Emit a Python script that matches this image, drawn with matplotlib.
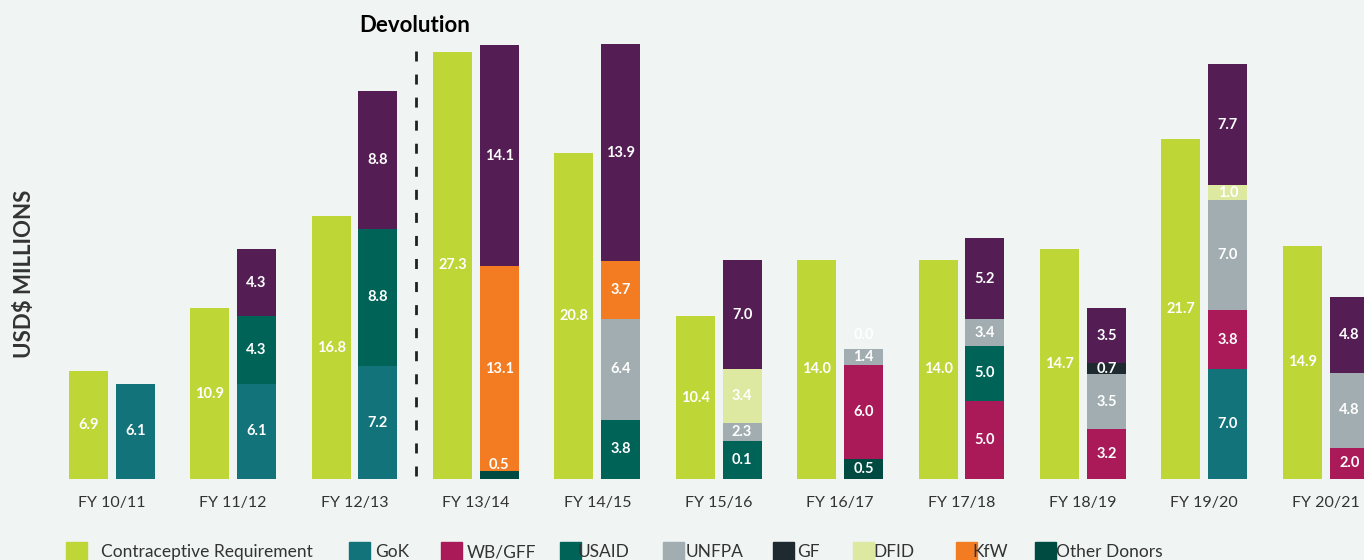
import matplotlib
matplotlib.use('Agg')
from matplotlib import pyplot as plt
from matplotlib.patches import Rectangle
import numpy as np

plt.rcParams['font.family'] = ['Lato', 'DejaVu Sans']

# data
years = ['FY 10/11', 'FY 11/12', 'FY 12/13', 'FY 13/14', 'FY 14/15', 'FY 15/16',
         'FY 16/17', 'FY 17/18', 'FY 18/19', 'FY 19/20', 'FY 20/21']
requirement = [6.9, 10.9, 16.8, 27.3, 20.8, 10.4, 14.0, 14.0, 14.7, 21.7, 14.9]

# funding sources, bottom to top of the stacked bar (None = not present)
other_donors = [None, None, None, 0.5, None, None, 1.3, None, None, None, None]
gok = [6.1, 6.1, 7.2, None, None, None, None, None, None, 7.0, None]
wb_gff = [None, None, None, None, None, None, 6.0, 5.0, 3.2, 3.8, 2.0]
usaid = [None, 4.3, 8.8, None, 3.8, 2.4, None, 3.5, None, None, None]
unfpa = [None, None, None, None, 6.4, 1.2, 1.0, 1.7, 3.5, 7.0, 4.8]
gf = [None, None, None, None, None, None, None, None, 0.7, None, None]
dfid = [None, None, None, None, None, 3.4, None, None, None, 1.0, None]
kfw = [None, None, None, 13.1, 3.7, None, None, None, None, None, None]
gap = [None, 4.3, 8.8, 14.1, 13.9, 7.0, 0.0, 5.2, 3.5, 7.7, 4.8]

# printed labels that differ from the drawn height
label_fix = {('USAID', 5): '0.1', ('UNFPA', 5): '2.3', ('Other Donors', 6): '0.5',
             ('UNFPA', 6): '1.4', ('USAID', 7): '5.0', ('UNFPA', 7): '3.4'}

series = [('Other Donors', other_donors, '#004b41'),
          ('GoK', gok, '#13737b'),
          ('WB/GFF', wb_gff, '#aa1a58'),
          ('USAID', usaid, '#006358'),
          ('UNFPA', unfpa, '#a2adb1'),
          ('GF', gf, '#1f2a30'),
          ('DFID', dfid, '#dde8a0'),
          ('KfW', kfw, '#f37b22'),
          ('Gap', gap, '#541e55')]
green = '#bed636'
bg = '#f0f5f4'

fig = plt.figure(figsize=(13.64, 5.6), dpi=100, facecolor=bg)
ax = fig.add_axes([0, 81 / 560, 1, 479 / 560])
ax.set_facecolor(bg)

x = np.arange(len(years))
w = 0.321
off = 0.193

ax.bar(x - off, requirement, width=w, color=green)
for xi, v in zip(x, requirement):
    ax.text(xi - off, v / 2, '%.1f' % v, ha='center', va='center',
            color='white', fontsize=10.5, fontweight='bold')

bottom = np.zeros(len(years))
for name, vals, col in series:
    h = np.array([np.nan if v is None else v for v in vals], dtype=float)
    hh = np.nan_to_num(h)
    ax.bar(x + off, hh, width=w, bottom=bottom, color=col)
    for i in range(len(years)):
        if np.isnan(h[i]):
            continue
        txt = label_fix.get((name, i), '%.1f' % h[i])
        yy = bottom[i] + hh[i] / 2 if hh[i] > 0 else bottom[i] + 0.9
        if 0 < hh[i] < 0.6:
            yy = bottom[i] + 0.9
        ax.text(x[i] + off, yy, txt, ha='center', va='center',
                color='white', fontsize=10.5, fontweight='bold')
    bottom += hh

# devolution marker
ax.plot([2.506, 2.506], [0.2, 27.4], color='#222222', lw=2,
        ls=(0, (3.6, 4.7)))
fig.text(414.5 / 1364, 1 - 25 / 560, 'Devolution', ha='center', va='center',
         fontsize=16, fontweight='bold', color='black')

ax.set_xlim(-0.920, 10.315)
ax.set_ylim(0, 479 / 15.65)
ax.set_xticks(x)
ax.set_xticklabels(years, fontsize=11.5, color='#333333')
ax.tick_params(length=0, pad=12)
ax.set_yticks([])
for s in ax.spines.values():
    s.set_visible(False)

fig.text(25 / 1364, 0.5116, 'USD$ MILLIONS', rotation=90, ha='center',
         va='center', fontsize=16, fontweight='bold', color='#333333')

# legend along the bottom edge
legend_items = [('Contraceptive Requirement', green, 66, 101),
                ('GoK', '#13737b', 349, 375),
                ('WB/GFF', '#aa1a58', 441, 467),
                ('USAID', '#006358', 560, 578),
                ('UNFPA', '#a2adb1', 663, 686),
                ('GF', '#1f2a30', 773, 797),
                ('DFID', '#dde8a0', 853, 873),
                ('KfW', '#f37b22', 956, 972),
                ('Other Donors', '#004b41', 1035, 1056)]
for lab, col, xs, xt in legend_items:
    fig.patches.append(Rectangle((xs / 1364, -3 / 560), 21 / 1364, 21 / 560,
                                 transform=fig.transFigure, color=col))
    fig.text(xt / 1364, 3 / 560, lab, ha='left', va='baseline',
             fontsize=12.5, color='#333333')

plt.savefig('out.png', dpi=100, facecolor=bg)
